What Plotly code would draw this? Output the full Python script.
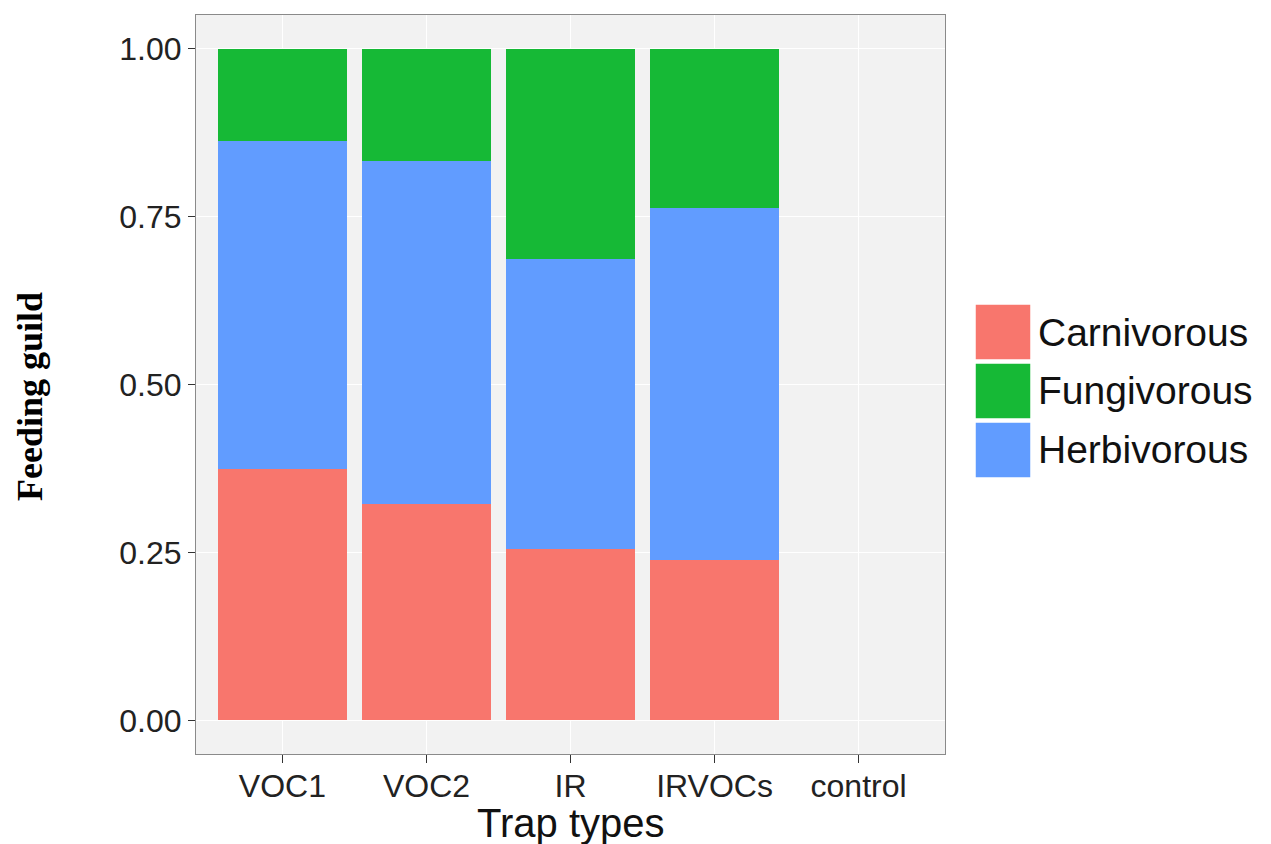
import plotly.graph_objects as go

# ---- data ----
trap_types = ["VOC1", "VOC2", "IR", "IRVOCs", "control"]
guilds = ["Carnivorous", "Fungivorous", "Herbivorous"]
carnivorous = [0.374, 0.322, 0.255, 0.239, None]
herbivorous = [0.489, 0.511, 0.4325, 0.523, None]
fungivorous = [0.137, 0.167, 0.3125, 0.238, None]
y_ticks = [0.0, 0.25, 0.5, 0.75, 1.0]
y_ticklabels = ["0.00", "0.25", "0.50", "0.75", "1.00"]
colors = {"Carnivorous": "#F8766D", "Fungivorous": "#16B936", "Herbivorous": "#619CFF"}

# ---- layout constants (pixels) ----
W, H = 1271, 844
L, R, T, B = 196, 945, 15, 754


def px(x):
    return (x - L) / (R - L)


def py(y):
    return (B - y) / (B - T)


fig = go.Figure()
# stacking order bottom -> top: Carnivorous, Herbivorous, Fungivorous
for name, vals in [("Carnivorous", carnivorous), ("Herbivorous", herbivorous), ("Fungivorous", fungivorous)]:
    fig.add_trace(go.Bar(
        x=trap_types, y=vals, name=name, width=0.9,
        marker=dict(color=colors[name], line=dict(width=0)),
        showlegend=False,
    ))

fig.update_layout(
    width=W, height=H, autosize=False,
    margin=dict(l=L, r=W - R, t=T, b=H - B, pad=0),
    barmode="stack",
    bargap=0.1,
    plot_bgcolor="#F2F2F2",
    paper_bgcolor="white",
    font=dict(family="Liberation Sans, Arial, sans-serif", color="#222222"),
)
fig.update_xaxes(
    type="category", categoryorder="array", categoryarray=trap_types,
    range=[-0.6, 4.6],
    showgrid=True, gridcolor="white", gridwidth=1.2,
    showline=True, linecolor="#8a8a8a", linewidth=1.2, mirror=True,
    ticks="outside", ticklen=8, tickcolor="#333333", tickwidth=1.2,
    ticklabelstandoff=-5,
    tickfont=dict(size=32, color="#222222"),
    zeroline=False,
)
fig.update_yaxes(
    range=[-0.05, 1.05],
    tickvals=y_ticks, ticktext=y_ticklabels,
    showgrid=True, gridcolor="white", gridwidth=1.2,
    showline=True, linecolor="#8a8a8a", linewidth=1.2, mirror=True,
    ticks="outside", ticklen=7, tickcolor="#333333", tickwidth=1.2,
    tickfont=dict(size=32, color="#222222"),
    zeroline=False,
)

# axis titles
fig.add_annotation(text="Trap types", xref="paper", yref="paper",
                   x=px(570), y=py(823), xanchor="center", yanchor="middle",
                   showarrow=False, font=dict(size=40, color="#111111"))
fig.add_annotation(text="Feeding guild", xref="paper", yref="paper",
                   x=px(30), y=py(397), xanchor="center", yanchor="middle",
                   textangle=-90, showarrow=False,
                   font=dict(size=36, color="black", family="Liberation Serif, Times New Roman, serif",
                             weight="bold"))

# custom legend (large ggplot-style keys)
key_x0, key_x1 = 975, 1031
key_tops = [304, 363, 422]
key_h = 56
for name, top in zip(guilds, key_tops):
    fig.add_shape(type="rect", xref="paper", yref="paper",
                  x0=px(key_x0), x1=px(key_x1), y0=py(top + key_h), y1=py(top),
                  fillcolor=colors[name], line=dict(color="white", width=1.5))
    fig.add_annotation(text=name, xref="paper", yref="paper",
                       x=px(1036), y=py(top + key_h / 2), xanchor="left", yanchor="middle",
                       showarrow=False, font=dict(size=39, color="#111111"))

fig.write_html("out.html", config={"displayModeBar": False},
               post_script="document.body.style.margin='0';document.body.style.overflow='hidden';")
